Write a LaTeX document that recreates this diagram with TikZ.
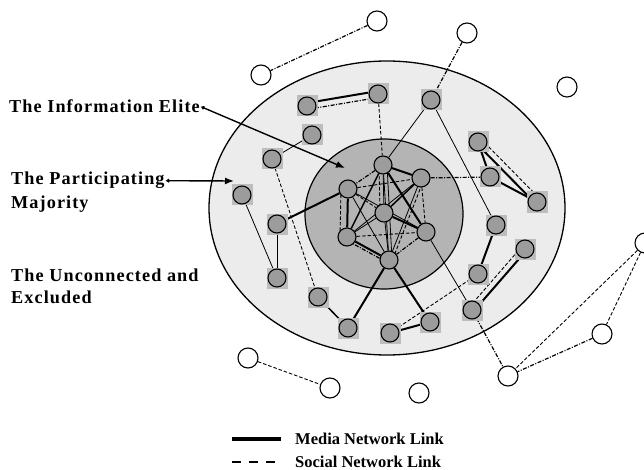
\documentclass[tikz,border=0pt]{standalone}
\usepackage{fontspec}
\setmainfont{Liberation Serif}
\newfontfamily\lblfont[LetterSpace=6]{Liberation Serif}
\usetikzlibrary{arrows.meta}
\definecolor{outerfill}{HTML}{ECECEC}
\definecolor{innerfill}{HTML}{B4B4B4}
\definecolor{nodefill}{HTML}{9C9C9C}
\definecolor{sqfill}{HTML}{BDBDBD}
\pgfdeclarelayer{bg}
\pgfdeclarelayer{edges}
\pgfsetlayers{bg,edges,main}
\newcommand\placeG[2]{\node[sqbox] at (#2) {};\node[gnode] (#1) at (#2) {};}
\begin{document}
\begin{tikzpicture}[x=1pt,y=-1pt,
  gnode/.style={circle,draw=black,line width=1.1pt,fill=nodefill,minimum size=18pt,inner sep=0pt},
  inode/.style={circle,draw=black,line width=1.1pt,fill=nodefill,minimum size=18pt,inner sep=0pt},
  wnode/.style={circle,draw=black,line width=1.1pt,fill=white,minimum size=20pt,inner sep=0pt},
  sqbox/.style={rectangle,fill=sqfill,minimum size=21pt,inner sep=0pt},
  media/.style={line width=2pt},
  thinlink/.style={line width=0.8pt},
  social/.style={line width=0.9pt,dash pattern=on 3.5pt off 2pt},
  socialdd/.style={line width=1.2pt,dash pattern=on 4pt off 1.5pt on 1pt off 1.5pt},
  lbl/.style={anchor=base west,inner sep=1pt,font=\lblfont\bfseries\fontsize{18.2}{22}\selectfont},
  leg/.style={anchor=base west,inner sep=0pt,font=\bfseries\fontsize{16.5}{20}\selectfont},
  pointer/.style={line width=1.4pt,{Kite[length=4pt,width=4pt]}-{Latex[length=9pt,width=7pt]}}
]
\useasboundingbox (0,0) rectangle (644,470);
\begin{pgfonlayer}{bg}
\fill[white] (0,0) rectangle (644,470);
\draw[fill=outerfill,line width=1.3pt] (387,208) ellipse [x radius=178, y radius=147];
\draw[fill=innerfill,line width=1.2pt] (384,214) ellipse [x radius=79, y radius=75];
\end{pgfonlayer}

% white (outside) nodes
\node[wnode] (W1) at (377,21) {};
\node[wnode] (W2) at (261,75) {};
\node[wnode] (W3) at (467,33) {};
\node[wnode] (W4) at (567,87) {};
\node[wnode] (W5) at (645,243) {};
\node[wnode] (W6) at (602,334) {};
\node[wnode] (W7) at (508,376) {};
\node[wnode] (W8) at (419,393) {};
\node[wnode] (W9) at (248,358) {};
\node[wnode] (W10) at (330,388) {};

% participating majority nodes
\placeG{A}{307,106}
\placeG{B}{378,94}
\placeG{C}{312,135}
\placeG{D}{272,159}
\placeG{E}{242,195}
\placeG{F}{277,224}
\placeG{G}{277,278}
\placeG{M}{318,297}
\placeG{N}{348,328}
\placeG{H}{431,100}
\placeG{R1}{478,142}
\placeG{R2}{490,177}
\placeG{R3}{537,202}
\placeG{P1}{496,225}
\placeG{P2}{478,274}
\placeG{P3}{525,249}
\placeG{P4}{472,310}
\placeG{P5}{430,322}
\placeG{P6}{390,333}

% information elite nodes
\node[inode] (I1) at (383,165) {};
\node[inode] (I2) at (421,178) {};
\node[inode] (I3) at (348,189) {};
\node[inode] (I4) at (384,213) {};
\node[inode] (I5) at (347,237) {};
\node[inode] (I6) at (426,232) {};
\node[inode] (I7) at (389,260) {};

\begin{pgfonlayer}{edges}
% outside links
\draw[socialdd] (W1) -- (W2);
\draw[socialdd] (W3) -- (H);
\draw[social] (W9) -- (W10);
\draw[social] (W5) -- (W7);
\draw[social] (W5) -- (W6);
\draw[socialdd] (W6) -- (W7);
\draw[socialdd] (P4) -- (W7);
% ring links
\draw[media] ([shift={(0,-3)}]A.center) -- ([shift={(0,-3)}]B.center);
\draw[socialdd] ([shift={(0,3.5)}]A.center) -- ([shift={(0,3.5)}]B.center);
\draw[social] (B) -- (I1);
\draw[thinlink] (C) -- (D);
\draw[social] (D) -- (M);
\draw[thinlink] (E) -- (G);
\draw[thinlink] (F) -- (G);
\draw[media] (F) -- (I3);
\draw[line width=1.5pt] (M) -- (N);
\draw[media] (N) -- (I7);
\draw[thinlink] (I1) -- (H);
\draw[thinlink] (H) -- (P1);
\draw[socialdd] (I2) -- (R2);
\draw[media] (R1) -- (R2);
\draw[media] ([shift={(-1.5,1.5)}]R1.center) -- ([shift={(-1.5,1.5)}]R3.center);
\draw[social] ([shift={(3,-3)}]R1.center) -- ([shift={(3,-3)}]R3.center);
\draw[media] (R2) -- (R3);
\draw[media] (P1) -- (P2);
\draw[media] ([shift={(1.5,1.3)}]P3.center) -- ([shift={(1.5,1.3)}]P4.center);
\draw[social] ([shift={(-3,-2.6)}]P3.center) -- ([shift={(-3,-2.6)}]P4.center);
\draw[social] (P2) -- (P6);
\draw[media] (P5) -- (P6);
\draw[media] (I7) -- (P5);
\draw[thinlink] (I6) -- (P4);
% elite links
\draw[media] (I1) -- (I2);
\draw[media] (I1) -- (I6);
\draw[line width=1.5pt] (I1) -- (I5);
\draw[media] (I3) -- (I5);
\draw[media] (I4) -- (I6);
\draw[media] (I5) -- (I7);
\draw[line width=1.5pt] (I4) -- (I2);
\draw[thinlink] (I1) -- (I7);
\draw[thinlink] ([shift={(4,0)}]I1.center) -- ([shift={(3,0)}]I7.center);
\draw[thinlink] (I1) -- (I4);
\draw[thinlink] (I3) -- (I6);
\draw[thinlink] (I2) -- (I5);
\draw[thinlink] (I4) -- (I5);
\draw[thinlink] (I4) -- (I7);
\draw[thinlink] (I3) -- (I7);
\draw[thinlink] (I2) -- (I7);
\draw[socialdd] (I1) -- (I3);
\draw[social] (I2) -- (I6);
\draw[socialdd] (I6) -- (I7);
\draw[social] ([shift={(-7,0)}]I3.center) -- ([shift={(-7,0)}]I5.center);
\draw[social] (I3) -- (I2);
\draw[social] (I3) -- (I4);
\draw[social] (I5) -- (I6);
\draw[socialdd] ([shift={(1,4)}]I5.center) -- ([shift={(1,4)}]I7.center);
\draw[social] ([shift={(-4,0)}]I1.center) -- ([shift={(-4,0)}]I4.center);
\draw[social] ([shift={(3,1)}]I2.center) -- ([shift={(3,1)}]I7.center);
\end{pgfonlayer}

% labels
\node[lbl] (elite) at (8,113) {The Information Elite};
\node[lbl] (part1) at (10,185) {The Participating};
\node[lbl] (part2) at (10,208) {Majority};
\node[lbl] (unc1) at (10,281) {The Unconnected and};
\node[lbl] (unc2) at (10,303) {Excluded};
\coordinate (eliteTip) at (345,168);
\coordinate (partTip) at (234,181);
\draw[pointer] (elite.east) -- (eliteTip);
\draw[pointer] (part1.east) -- (partTip);

% legend
\coordinate (lmA) at (232,439);
\coordinate (lmB) at (281,439);
\coordinate (lsA) at (232,462);
\coordinate (lsB) at (281,462);
\draw[line width=3.2pt] (lmA) -- (lmB);
\draw[line width=2.6pt,dash pattern=on 9pt off 8pt] (lsA) -- (lsB);
\node[leg] (legm) at (295,444) {Media Network Link};
\node[leg] (legs) at (295,467) {Social Network Link};
\end{tikzpicture}
\end{document}
